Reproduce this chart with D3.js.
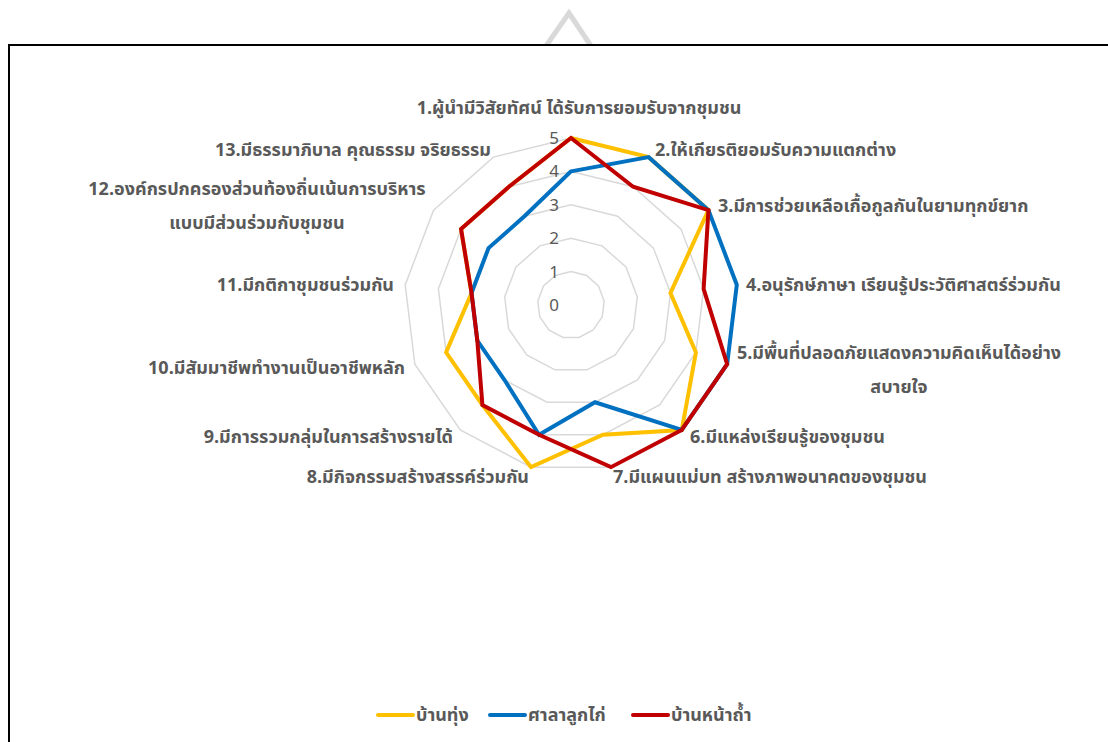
<!DOCTYPE html>
<html>
<head>
<meta charset="utf-8">
<script src="https://cdn.jsdelivr.net/npm/d3@7"></script>
<style>
  body { margin: 0; background: #fff; }
  text { font-family: "Noto Sans Thai", "Noto Sans", "DejaVu Sans", sans-serif; }
</style>
</head>
<body>
<div id="chart"></div>
<script>
// categories (13 axes)
const categories = [
  ["1.ผู้นำมีวิสัยทัศน์ ได้รับการยอมรับจากชุมชน"],
  ["2.ให้เกียรติยอมรับความแตกต่าง"],
  ["3.มีการช่วยเหลือเกื้อกูลกันในยามทุกข์ยาก"],
  ["4.อนุรักษ์ภาษา เรียนรู้ประวัติศาสตร์ร่วมกัน"],
  ["5.มีพื้นที่ปลอดภัยแสดงความคิดเห็นได้อย่าง", "สบายใจ"],
  ["6.มีแหล่งเรียนรู้ของชุมชน"],
  ["7.มีแผนแม่บท  สร้างภาพอนาคตของชุมชน"],
  ["8.มีกิจกรรมสร้างสรรค์ร่วมกัน"],
  ["9.มีการรวมกลุ่มในการสร้างรายได้"],
  ["10.มีสัมมาชีพทำงานเป็นอาชีพหลัก"],
  ["11.มีกติกาชุมชนร่วมกัน"],
  ["12.องค์กรปกครองส่วนท้องถิ่นเน้นการบริหาร", "แบบมีส่วนร่วมกับชุมชน"],
  ["13.มีธรรมาภิบาล  คุณธรรม จริยธรรม"]
]

const seriesNames = ["บ้านทุ่ง", "ศาลาลูกไก่", "บ้านหน้าถ้ำ"]
const banThung   = [5, 5, 5, 3, 4, 5, 4, 5, 4, 4, 3, 4, 4]
const salaLukKai = [4, 5, 5, 5, 5, 5, 3, 4, 3, 3, 3, 3, 3]
const banNaTham  = [5, 4, 5, 4, 5, 5, 5, 4, 4, 3, 3, 4, 4]
const tickValues = [0, 1, 2, 3, 4, 5]

const width = 1108
const height = 742
const cx = 571, cy = 305

const color = d3.scaleOrdinal(seriesNames, ["#FFC000", "#0070C0", "#C00000"])

const r = d3.scaleLinear().domain([0, 5]).range([0, 167])
const angle = d3.scaleLinear().domain([0, categories.length]).range([0, 2 * Math.PI])

const svg = d3.select("#chart").append("svg")
  .attr("width", width)
  .attr("height", height)

// grey chevron peeking above the frame
svg.append("path")
  .attr("d", "M546,46 L569,13 L591,46")
  .attr("fill", "none")
  .attr("stroke", "#d9d9d9")
  .attr("stroke-width", 5)

// frame
svg.append("rect")
  .attr("x", 9).attr("y", 45)
  .attr("width", 1120).attr("height", 720)
  .attr("fill", "#fff")
  .attr("stroke", "#000")
  .attr("stroke-width", 2)

const g = svg.append("g").attr("transform", `translate(${cx},${cy})`)

// grid rings
const ring = d3.lineRadial()
  .angle((d, i) => angle(i))
  .radius(d => r(d))
  .curve(d3.curveLinearClosed)

g.append("g").selectAll("path")
  .data(tickValues.slice(1))
  .join("path")
  .attr("d", t => ring(categories.map(() => t)))
  .attr("fill", "none")
  .attr("stroke", "#d9d9d9")
  .attr("stroke-width", 1.5)

// tick labels
g.append("g").selectAll("text")
  .data(tickValues)
  .join("text")
  .attr("x", -12)
  .attr("y", t => -r(t))
  .attr("dy", "0.35em")
  .attr("text-anchor", "end")
  .attr("font-size", 17)
  .attr("fill", "#595959")
  .text(t => t)

// series
const series = [banThung, salaLukKai, banNaTham]
g.append("g").selectAll("path")
  .data(series)
  .join("path")
  .attr("d", d => ring(d))
  .attr("fill", "none")
  .attr("stroke", (d, i) => color(seriesNames[i]))
  .attr("stroke-width", 4)
  .attr("stroke-linejoin", "miter")

// category labels
const labelPos = [
  { x: 579, y: 108, anchor: "middle" },
  { x: 655, y: 150, anchor: "start" },
  { x: 718, y: 206, anchor: "start" },
  { x: 746, y: 285, anchor: "start" },
  { x: 899, y: 353, anchor: "middle" },
  { x: 690, y: 437, anchor: "start" },
  { x: 613, y: 477, anchor: "start" },
  { x: 529, y: 477, anchor: "end" },
  { x: 453, y: 437, anchor: "end" },
  { x: 405, y: 368, anchor: "end" },
  { x: 394, y: 285, anchor: "end" },
  { x: 257, y: 189, anchor: "middle" },
  { x: 491, y: 150, anchor: "end" }
]

svg.append("g").selectAll("text")
  .data(categories)
  .join("text")
  .attr("x", (d, i) => labelPos[i].x)
  .attr("y", (d, i) => labelPos[i].y)
  .attr("text-anchor", (d, i) => labelPos[i].anchor)
  .attr("font-size", 18)
  .attr("font-weight", "bold")
  .attr("fill", "#595959")
  .selectAll("tspan")
  .data(d => d)
  .join("tspan")
  .attr("x", function () { return d3.select(this.parentNode).attr("x") })
  .attr("dy", (d, i) => i === 0 ? "0.35em" : "1.85em")
  .text(d => d)

// legend
const legendX = [378, 490, 633]
const legend = svg.append("g").selectAll("g")
  .data(seriesNames)
  .join("g")
  .attr("transform", (d, i) => `translate(${legendX[i]},715)`)

legend.append("line")
  .attr("x1", 0).attr("x2", 35)
  .attr("stroke", d => color(d))
  .attr("stroke-width", 4)
  .attr("stroke-linecap", "round")

legend.append("text")
  .attr("x", 38)
  .attr("dy", "0.35em")
  .attr("font-size", 18)
  .attr("font-weight", "bold")
  .attr("fill", "#595959")
  .text(d => d)
</script>
</body>
</html>
